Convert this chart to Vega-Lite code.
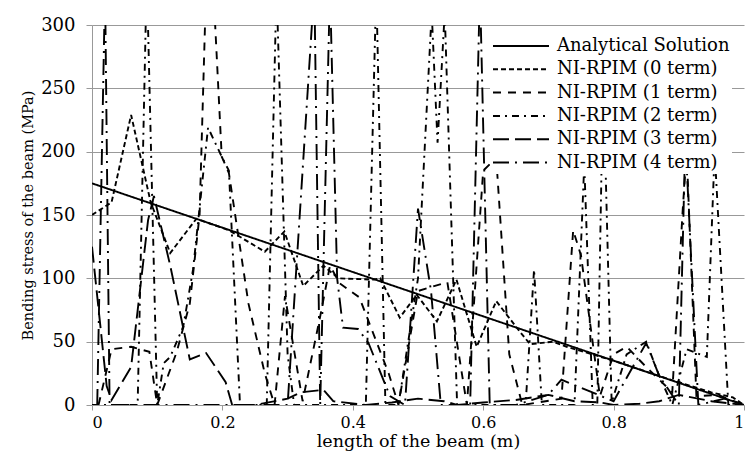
{
  "$schema": "https://vega.github.io/schema/vega-lite/v6.json",
  "width": 652,
  "height": 380,
  "autosize": {"type": "none"},
  "padding": {"left": 92, "top": 25, "right": 9, "bottom": 54},
  "background": "white",
  "config": {
    "view": {"stroke": null},
    "font": "DejaVu Serif",
    "axis": {"labelFont": "DejaVu Serif", "titleFont": "DejaVu Serif", "labelFontSize": 18, "titleFontSize": 18, "titleFontWeight": "normal", "labelColor": "#000", "titleColor": "#000", "gridColor": "#999", "domainColor": "#999", "tickColor": "#999", "gridWidth": 1}
  },
  "data": {
    "values": [
      {"s": "Analytical Solution", "x": 0, "y": 175}, {"s": "Analytical Solution", "x": 1, "y": 0},
      {"s": "NI-RPIM (0 term)", "x": 0, "y": 150}, {"s": "NI-RPIM (0 term)", "x": 0.03, "y": 160}, {"s": "NI-RPIM (0 term)", "x": 0.06, "y": 229}, {"s": "NI-RPIM (0 term)", "x": 0.09, "y": 160}, {"s": "NI-RPIM (0 term)", "x": 0.12, "y": 120}, {"s": "NI-RPIM (0 term)", "x": 0.16, "y": 147}, {"s": "NI-RPIM (0 term)", "x": 0.21, "y": 138}, {"s": "NI-RPIM (0 term)", "x": 0.265, "y": 121}, {"s": "NI-RPIM (0 term)", "x": 0.295, "y": 137}, {"s": "NI-RPIM (0 term)", "x": 0.324, "y": 94}, {"s": "NI-RPIM (0 term)", "x": 0.355, "y": 110}, {"s": "NI-RPIM (0 term)", "x": 0.378, "y": 100}, {"s": "NI-RPIM (0 term)", "x": 0.431, "y": 99}, {"s": "NI-RPIM (0 term)", "x": 0.442, "y": 100}, {"s": "NI-RPIM (0 term)", "x": 0.472, "y": 69}, {"s": "NI-RPIM (0 term)", "x": 0.498, "y": 87}, {"s": "NI-RPIM (0 term)", "x": 0.529, "y": 66}, {"s": "NI-RPIM (0 term)", "x": 0.559, "y": 99}, {"s": "NI-RPIM (0 term)", "x": 0.59, "y": 46}, {"s": "NI-RPIM (0 term)", "x": 0.62, "y": 82}, {"s": "NI-RPIM (0 term)", "x": 0.656, "y": 58}, {"s": "NI-RPIM (0 term)", "x": 0.672, "y": 48}, {"s": "NI-RPIM (0 term)", "x": 0.707, "y": 50}, {"s": "NI-RPIM (0 term)", "x": 0.728, "y": 46}, {"s": "NI-RPIM (0 term)", "x": 0.8, "y": 35}, {"s": "NI-RPIM (0 term)", "x": 0.881, "y": 21}, {"s": "NI-RPIM (0 term)", "x": 0.95, "y": 10}, {"s": "NI-RPIM (0 term)", "x": 0.983, "y": 6}, {"s": "NI-RPIM (0 term)", "x": 1, "y": 0},
      {"s": "NI-RPIM (1 term)", "x": 0.01, "y": 0}, {"s": "NI-RPIM (1 term)", "x": 0.03, "y": 44}, {"s": "NI-RPIM (1 term)", "x": 0.06, "y": 46}, {"s": "NI-RPIM (1 term)", "x": 0.088, "y": 42}, {"s": "NI-RPIM (1 term)", "x": 0.1, "y": 0}, {"s": "NI-RPIM (1 term)", "x": 0.13, "y": 42}, {"s": "NI-RPIM (1 term)", "x": 0.15, "y": 80}, {"s": "NI-RPIM (1 term)", "x": 0.165, "y": 150}, {"s": "NI-RPIM (1 term)", "x": 0.175, "y": 330}, {"s": "NI-RPIM (1 term)", "x": 0.186, "y": 330}, {"s": "NI-RPIM (1 term)", "x": 0.199, "y": 196}, {"s": "NI-RPIM (1 term)", "x": 0.21, "y": 183}, {"s": "NI-RPIM (1 term)", "x": 0.24, "y": 80}, {"s": "NI-RPIM (1 term)", "x": 0.265, "y": 25}, {"s": "NI-RPIM (1 term)", "x": 0.28, "y": 0}, {"s": "NI-RPIM (1 term)", "x": 0.296, "y": 86}, {"s": "NI-RPIM (1 term)", "x": 0.323, "y": 3}, {"s": "NI-RPIM (1 term)", "x": 0.35, "y": 70}, {"s": "NI-RPIM (1 term)", "x": 0.365, "y": 110}, {"s": "NI-RPIM (1 term)", "x": 0.38, "y": 96}, {"s": "NI-RPIM (1 term)", "x": 0.41, "y": 85}, {"s": "NI-RPIM (1 term)", "x": 0.455, "y": 25}, {"s": "NI-RPIM (1 term)", "x": 0.47, "y": 0}, {"s": "NI-RPIM (1 term)", "x": 0.49, "y": 60}, {"s": "NI-RPIM (1 term)", "x": 0.5, "y": 90}, {"s": "NI-RPIM (1 term)", "x": 0.545, "y": 97}, {"s": "NI-RPIM (1 term)", "x": 0.575, "y": 0}, {"s": "NI-RPIM (1 term)", "x": 0.6, "y": 185}, {"s": "NI-RPIM (1 term)", "x": 0.62, "y": 195}, {"s": "NI-RPIM (1 term)", "x": 0.64, "y": 40}, {"s": "NI-RPIM (1 term)", "x": 0.66, "y": 0}, {"s": "NI-RPIM (1 term)", "x": 0.72, "y": 5}, {"s": "NI-RPIM (1 term)", "x": 0.738, "y": 138}, {"s": "NI-RPIM (1 term)", "x": 0.75, "y": 118}, {"s": "NI-RPIM (1 term)", "x": 0.779, "y": 7}, {"s": "NI-RPIM (1 term)", "x": 0.8, "y": 40}, {"s": "NI-RPIM (1 term)", "x": 0.82, "y": 46}, {"s": "NI-RPIM (1 term)", "x": 0.85, "y": 30}, {"s": "NI-RPIM (1 term)", "x": 0.89, "y": 10}, {"s": "NI-RPIM (1 term)", "x": 0.906, "y": 154}, {"s": "NI-RPIM (1 term)", "x": 0.912, "y": 200}, {"s": "NI-RPIM (1 term)", "x": 0.927, "y": 7}, {"s": "NI-RPIM (1 term)", "x": 0.96, "y": 8}, {"s": "NI-RPIM (1 term)", "x": 1, "y": 0},
      {"s": "NI-RPIM (2 term)", "x": 0, "y": 0}, {"s": "NI-RPIM (2 term)", "x": 0.07, "y": 0}, {"s": "NI-RPIM (2 term)", "x": 0.084, "y": 340}, {"s": "NI-RPIM (2 term)", "x": 0.1, "y": 0}, {"s": "NI-RPIM (2 term)", "x": 0.11, "y": 33}, {"s": "NI-RPIM (2 term)", "x": 0.12, "y": 38}, {"s": "NI-RPIM (2 term)", "x": 0.14, "y": 62}, {"s": "NI-RPIM (2 term)", "x": 0.155, "y": 107}, {"s": "NI-RPIM (2 term)", "x": 0.178, "y": 219}, {"s": "NI-RPIM (2 term)", "x": 0.199, "y": 196}, {"s": "NI-RPIM (2 term)", "x": 0.21, "y": 185}, {"s": "NI-RPIM (2 term)", "x": 0.227, "y": 0}, {"s": "NI-RPIM (2 term)", "x": 0.268, "y": 0}, {"s": "NI-RPIM (2 term)", "x": 0.283, "y": 330}, {"s": "NI-RPIM (2 term)", "x": 0.3, "y": 40}, {"s": "NI-RPIM (2 term)", "x": 0.31, "y": 0}, {"s": "NI-RPIM (2 term)", "x": 0.42, "y": 0}, {"s": "NI-RPIM (2 term)", "x": 0.436, "y": 330}, {"s": "NI-RPIM (2 term)", "x": 0.45, "y": 0}, {"s": "NI-RPIM (2 term)", "x": 0.47, "y": 0}, {"s": "NI-RPIM (2 term)", "x": 0.5, "y": 100}, {"s": "NI-RPIM (2 term)", "x": 0.521, "y": 310}, {"s": "NI-RPIM (2 term)", "x": 0.53, "y": 207}, {"s": "NI-RPIM (2 term)", "x": 0.541, "y": 310}, {"s": "NI-RPIM (2 term)", "x": 0.56, "y": 0}, {"s": "NI-RPIM (2 term)", "x": 0.665, "y": 0}, {"s": "NI-RPIM (2 term)", "x": 0.678, "y": 107}, {"s": "NI-RPIM (2 term)", "x": 0.69, "y": 0}, {"s": "NI-RPIM (2 term)", "x": 0.74, "y": 0}, {"s": "NI-RPIM (2 term)", "x": 0.755, "y": 190}, {"s": "NI-RPIM (2 term)", "x": 0.768, "y": 0}, {"s": "NI-RPIM (2 term)", "x": 0.775, "y": 0}, {"s": "NI-RPIM (2 term)", "x": 0.784, "y": 260}, {"s": "NI-RPIM (2 term)", "x": 0.797, "y": 2}, {"s": "NI-RPIM (2 term)", "x": 0.82, "y": 40}, {"s": "NI-RPIM (2 term)", "x": 0.85, "y": 50}, {"s": "NI-RPIM (2 term)", "x": 0.87, "y": 23}, {"s": "NI-RPIM (2 term)", "x": 0.89, "y": 0}, {"s": "NI-RPIM (2 term)", "x": 0.912, "y": 44}, {"s": "NI-RPIM (2 term)", "x": 0.943, "y": 38}, {"s": "NI-RPIM (2 term)", "x": 0.955, "y": 200}, {"s": "NI-RPIM (2 term)", "x": 0.976, "y": 0}, {"s": "NI-RPIM (2 term)", "x": 1, "y": 0},
      {"s": "NI-RPIM (3 term)", "x": 0, "y": 125}, {"s": "NI-RPIM (3 term)", "x": 0.0225, "y": 15}, {"s": "NI-RPIM (3 term)", "x": 0.03, "y": 4}, {"s": "NI-RPIM (3 term)", "x": 0.06, "y": 30}, {"s": "NI-RPIM (3 term)", "x": 0.086, "y": 146}, {"s": "NI-RPIM (3 term)", "x": 0.095, "y": 165}, {"s": "NI-RPIM (3 term)", "x": 0.12, "y": 110}, {"s": "NI-RPIM (3 term)", "x": 0.15, "y": 36}, {"s": "NI-RPIM (3 term)", "x": 0.175, "y": 41}, {"s": "NI-RPIM (3 term)", "x": 0.205, "y": 18}, {"s": "NI-RPIM (3 term)", "x": 0.215, "y": 0}, {"s": "NI-RPIM (3 term)", "x": 0.25, "y": 0}, {"s": "NI-RPIM (3 term)", "x": 0.3, "y": 5}, {"s": "NI-RPIM (3 term)", "x": 0.32, "y": 10}, {"s": "NI-RPIM (3 term)", "x": 0.355, "y": 12}, {"s": "NI-RPIM (3 term)", "x": 0.37, "y": 3}, {"s": "NI-RPIM (3 term)", "x": 0.42, "y": 0}, {"s": "NI-RPIM (3 term)", "x": 0.46, "y": 2}, {"s": "NI-RPIM (3 term)", "x": 0.5, "y": 5}, {"s": "NI-RPIM (3 term)", "x": 0.54, "y": 3}, {"s": "NI-RPIM (3 term)", "x": 0.56, "y": 0}, {"s": "NI-RPIM (3 term)", "x": 0.6, "y": 2}, {"s": "NI-RPIM (3 term)", "x": 0.65, "y": 4}, {"s": "NI-RPIM (3 term)", "x": 0.7, "y": 8}, {"s": "NI-RPIM (3 term)", "x": 0.74, "y": 3}, {"s": "NI-RPIM (3 term)", "x": 0.78, "y": 2}, {"s": "NI-RPIM (3 term)", "x": 0.8, "y": 0}, {"s": "NI-RPIM (3 term)", "x": 0.84, "y": 1}, {"s": "NI-RPIM (3 term)", "x": 0.87, "y": 3}, {"s": "NI-RPIM (3 term)", "x": 0.9, "y": 8}, {"s": "NI-RPIM (3 term)", "x": 0.95, "y": 3}, {"s": "NI-RPIM (3 term)", "x": 1, "y": 0},
      {"s": "NI-RPIM (4 term)", "x": 0.008, "y": 0}, {"s": "NI-RPIM (4 term)", "x": 0.02, "y": 330}, {"s": "NI-RPIM (4 term)", "x": 0.027, "y": 0}, {"s": "NI-RPIM (4 term)", "x": 0.05, "y": 0}, {"s": "NI-RPIM (4 term)", "x": 0.1, "y": 0}, {"s": "NI-RPIM (4 term)", "x": 0.2, "y": 0}, {"s": "NI-RPIM (4 term)", "x": 0.3, "y": 0}, {"s": "NI-RPIM (4 term)", "x": 0.341, "y": 330}, {"s": "NI-RPIM (4 term)", "x": 0.35, "y": 0}, {"s": "NI-RPIM (4 term)", "x": 0.365, "y": 330}, {"s": "NI-RPIM (4 term)", "x": 0.376, "y": 100}, {"s": "NI-RPIM (4 term)", "x": 0.385, "y": 61}, {"s": "NI-RPIM (4 term)", "x": 0.408, "y": 60}, {"s": "NI-RPIM (4 term)", "x": 0.424, "y": 49}, {"s": "NI-RPIM (4 term)", "x": 0.457, "y": 7}, {"s": "NI-RPIM (4 term)", "x": 0.48, "y": 0}, {"s": "NI-RPIM (4 term)", "x": 0.5, "y": 155}, {"s": "NI-RPIM (4 term)", "x": 0.52, "y": 90}, {"s": "NI-RPIM (4 term)", "x": 0.535, "y": 0}, {"s": "NI-RPIM (4 term)", "x": 0.58, "y": 0}, {"s": "NI-RPIM (4 term)", "x": 0.595, "y": 330}, {"s": "NI-RPIM (4 term)", "x": 0.61, "y": 0}, {"s": "NI-RPIM (4 term)", "x": 0.65, "y": 0}, {"s": "NI-RPIM (4 term)", "x": 0.7, "y": 8}, {"s": "NI-RPIM (4 term)", "x": 0.72, "y": 20}, {"s": "NI-RPIM (4 term)", "x": 0.8, "y": 3}, {"s": "NI-RPIM (4 term)", "x": 0.85, "y": 49}, {"s": "NI-RPIM (4 term)", "x": 0.87, "y": 23}, {"s": "NI-RPIM (4 term)", "x": 0.9, "y": 0}, {"s": "NI-RPIM (4 term)", "x": 0.91, "y": 210}, {"s": "NI-RPIM (4 term)", "x": 0.93, "y": 0}, {"s": "NI-RPIM (4 term)", "x": 0.97, "y": 5}, {"s": "NI-RPIM (4 term)", "x": 1, "y": 0}
    ]
  },
  "mark": {"type": "line", "clip": true, "color": "black", "strokeWidth": 1.9},
  "encoding": {
    "x": {"field": "x", "type": "quantitative", "scale": {"domain": [0, 1], "nice": false}, "axis": {"values": [0, 0.2, 0.4, 0.6, 0.8, 1], "grid": false, "tickSize": 5, "labelPadding": 4, "labelFontSize": 16, "title": "length of the beam (m)", "titleFontSize": 17.5, "titlePadding": 2, "format": "~g"}},
    "y": {"field": "y", "type": "quantitative", "scale": {"domain": [0, 300], "nice": false}, "axis": {"values": [0, 50, 100, 150, 200, 250, 300], "tickSize": 6, "labelPadding": 11, "title": "Bending stress of the beam (MPa)", "titleFontSize": 14.5, "titlePadding": 5}},
    "strokeDash": {"field": "s", "type": "nominal", "scale": {"domain": ["Analytical Solution", "NI-RPIM (0 term)", "NI-RPIM (1 term)", "NI-RPIM (2 term)", "NI-RPIM (3 term)", "NI-RPIM (4 term)"], "range": [[1, 0], [5, 3], [8, 7], [7, 5, 2, 5], [16, 6], [16, 6, 2, 6]]}, "legend": {"title": null, "orient": "none", "legendX": 398, "legendY": 10, "fillColor": "white", "padding": 2, "symbolType": "M-1,0H6", "symbolSize": 256, "symbolFillColor": "transparent", "symbolStrokeWidth": 2, "symbolStrokeColor": "black", "labelFont": "DejaVu Serif", "labelFontSize": 18, "labelColor": "black", "labelOffset": 47, "labelLimit": 400, "rowPadding": 5.3}},
    "order": {"field": "x", "type": "quantitative"}
  }
}
